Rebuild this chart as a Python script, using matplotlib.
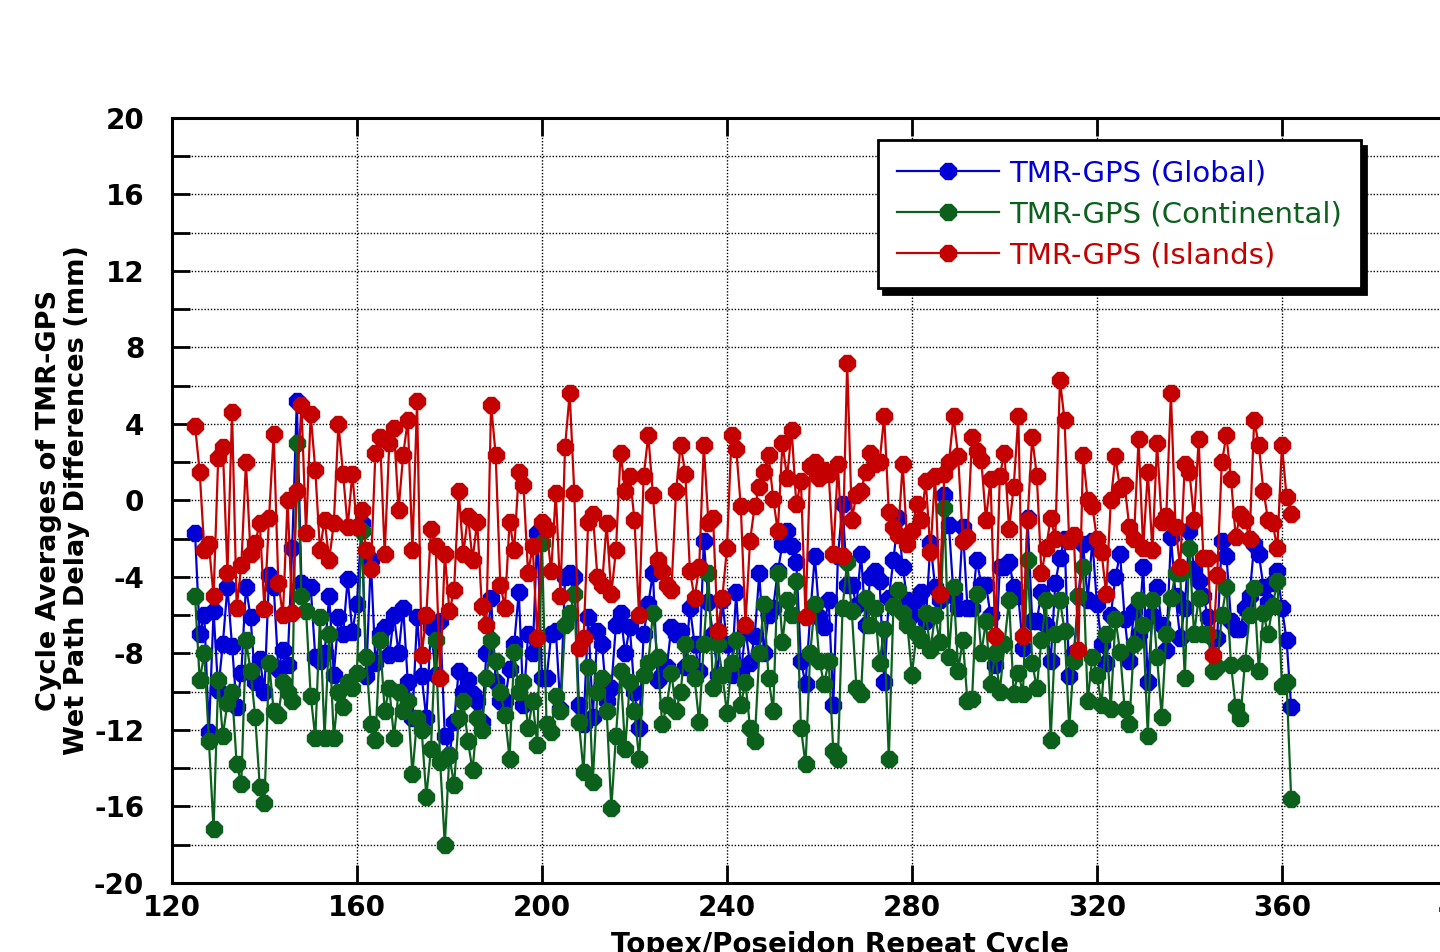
import numpy as np
import matplotlib
matplotlib.use("Agg")
import matplotlib.pyplot as plt
from matplotlib.ticker import MultipleLocator

plt.rcParams["axes.unicode_minus"] = False

# repeat cycles 125..362
first_cycle = 125
last_cycle = 362

# TMR-GPS (Global)
global_diff = [
    -1.7, -7.0, -6.0, -12.1, -5.8, -9.9, -7.5, -4.5, -7.6, -10.8,
    -9.0, -4.5, -6.1, -9.5, -8.3, -10.0, -3.9, -4.5, -8.8, -7.8,
    -8.6, -2.5, 5.2, -4.3, -4.6, -4.5, -8.2, -8.4, -8.0, -5.0,
    -9.1, -6.1, -7.0, -4.1, -6.9, -5.4, -1.2, -9.2, -3.1, -8.5,
    -7.0, -6.6, -8.1, -6.0, -8.0, -5.6, -9.5, -11.4, -6.1, -9.2,
    -11.4, -6.6, -9.1, -6.3, -12.3, -13.3, -11.6, -8.9, -10.0, -9.4,
    -10.1, -10.5, -11.6, -8.0, -5.1, -9.5, -10.5, -10.5, -8.8, -7.5,
    -4.8, -10.7, -7.0, -8.0, -1.7, -9.3, -9.3, -7.0, -6.8, -10.9,
    -4.0, -3.8, -4.0, -10.7, -11.7, -6.1, -11.3, -6.8, -7.5, -10.5,
    -9.8, -6.5, -5.9, -8.0, -6.6, -10.0, -11.9, -7.0, -5.4, -3.8,
    -9.4, -9.1, -8.7, -6.6, -7.0, -6.8, -8.7, -5.6, -7.5, -8.9,
    -2.1, -5.3, -7.0, -9.1, -5.2, -7.5, -9.1, -4.8, -9.1, -6.8,
    -8.5, -7.1, -3.8, -8.0, -6.0, -5.6, -3.7, -2.3, -1.6, -2.4,
    -3.2, -8.4, -9.6, -6.0, -2.9, -6.1, -6.6, -5.2, -10.7, -2.9,
    -0.2, -4.4, -4.4, -5.5, -2.8, -6.5, -4.0, -3.7, -4.2, -9.5,
    -5.1, -3.1, -0.9, -3.5, -5.2, -6.0, -5.2, -4.8, -6.3, -2.2,
    -4.5, -5.2, 0.3, -1.3, -5.0, -5.6, -1.4, -5.6, -5.6, -3.1,
    -4.4, -4.4, -6.0, -8.6, -3.5, -3.5, -3.2, -4.5, -5.0, -7.7,
    -0.9, -6.3, -6.3, -4.8, -6.5, -8.4, -4.3, -3.0, -2.0, -9.2,
    -8.0, -5.0, -2.3, -5.2, -2.1, -5.4, -7.5, -8.5, -6.0, -4.0,
    -2.8, -6.2, -8.4, -5.8, -7.0, -3.5, -9.5, -6.0, -4.5, -6.5,
    -7.8, -1.9, -5.0, -7.2, -5.6, -1.6, -3.6, -4.2, -5.0, -6.1,
    -7.2, -7.2, -2.1, -2.9, -6.3, -6.7, -6.7, -5.6, -5.0, -2.3,
    -2.8, -4.5, -5.3, -4.3, -3.7, -5.6, -7.3, -10.8,
]

# TMR-GPS (Continental)
continental_diff = [
    -5.0, -9.4, -8.0, -12.6, -17.2, -9.4, -12.3, -10.6, -10.0, -13.8,
    -14.8, -7.3, -8.9, -11.3, -15.0, -15.8, -8.5, -11.0, -11.2, -9.5,
    -10.0, -10.5, 3.0, -5.0, -5.8, -10.2, -12.4, -6.1, -12.4, -7.0,
    -12.4, -10.0, -10.8, -9.5, -9.8, -9.0, -1.6, -8.2, -11.7, -12.5,
    -7.3, -11.0, -9.8, -12.4, -10.0, -11.0, -10.5, -14.3, -11.4, -12.0,
    -15.5, -13.0, -7.3, -13.7, -18.0, -13.3, -14.9, -11.4, -10.5, -12.6,
    -14.1, -11.4, -12.0, -9.3, -7.3, -8.4, -10.0, -11.2, -13.5, -7.9,
    -10.0, -9.5, -11.9, -10.5, -12.8, -2.2, -11.7, -12.1, -10.2, -11.0,
    -6.5, -5.9, -4.9, -11.6, -14.2, -8.7, -14.7, -10.0, -9.3, -11.0,
    -16.1, -12.3, -8.9, -13.0, -9.5, -11.0, -13.5, -9.1, -8.5, -5.9,
    -8.2, -11.7, -10.7, -9.0, -11.0, -10.0, -7.5, -8.5, -9.3, -11.6,
    -7.5, -3.8, -9.8, -7.5, -9.1, -11.1, -8.5, -7.3, -10.7, -9.5,
    -11.9, -12.6, -8.0, -5.4, -9.3, -11.0, -3.8, -7.4, -5.2, -6.0,
    -4.2, -11.9, -13.8, -8.0, -5.4, -8.4, -9.6, -8.4, -13.1, -13.5,
    -5.6, -3.2, -5.8, -9.8, -10.1, -5.1, -6.5, -5.6, -8.5, -6.7,
    -13.5, -5.5, -4.7, -5.9, -6.5, -9.1, -7.0, -7.3, -5.9, -7.8,
    -6.0, -7.4, -0.4, -8.2, -4.5, -8.9, -7.3, -10.5, -10.4, -4.9,
    -8.0, -6.3, -9.6, -8.0, -10.0, -7.5, -5.2, -10.1, -9.0, -10.1,
    -3.1, -8.5, -9.8, -7.3, -5.2, -12.5, -7.0, -5.2, -6.8, -11.9,
    -8.4, -5.0, -3.5, -10.5, -8.2, -9.1, -10.7, -7.0, -10.9, -6.2,
    -7.9, -10.9, -11.7, -7.5, -5.2, -6.5, -12.3, -5.2, -8.2, -11.3,
    -7.0, -5.1, -3.8, -3.8, -9.3, -2.5, -7.0, -5.1, -7.0, -7.0,
    -8.9, -8.7, -6.0, -4.5, -8.6, -10.8, -11.4, -8.5, -6.0, -4.6,
    -8.9, -5.9, -7.0, -5.5, -4.2, -9.7, -9.5, -15.6,
]

# TMR-GPS (Islands)
islands_diff = [
    3.9, 1.5, -2.6, -2.3, -5.0, 2.2, 2.8, -3.8, 4.6, -5.6,
    -3.4, 2.0, -2.8, -2.2, -1.2, -5.7, -0.9, 3.5, -4.3, -6.0,
    0.0, -5.9, 0.5, 5.0, -1.7, 4.5, 1.6, -2.6, -1.0, -3.1,
    -1.2, 4.0, 1.4, -1.4, 1.4, -1.4, -0.5, -2.6, -3.6, 2.5,
    3.3, -2.8, 3.0, 3.8, -0.5, 2.4, 4.2, -2.6, 5.2, -8.1,
    -6.0, -1.5, -2.4, -9.3, -2.8, -5.8, -4.7, 0.5, -2.8, -0.8,
    -3.1, -1.1, -5.5, -6.5, 5.0, 2.4, -4.4, -5.6, -1.1, -2.6,
    1.5, 0.8, -3.8, -2.4, -7.2, -1.1, -1.5, -3.7, 0.4, -5.0,
    2.8, 5.6, 0.4, -7.7, -7.2, -1.1, -0.7, -4.0, -4.4, -1.2,
    -4.9, -2.6, 2.5, 0.5, 1.3, -1.0, -6.0, 1.3, 3.4, 0.3,
    -3.1, -3.7, -4.4, -4.7, 0.5, 2.9, 1.4, -3.7, -5.1, -3.5,
    2.9, -1.2, -0.9, -6.8, -5.1, -2.5, 3.4, 2.7, -0.3, -6.5,
    -2.1, -0.3, 0.7, 1.5, 2.4, 0.1, -1.6, 3.0, 1.2, 3.7,
    -0.2, 1.0, -6.1, 1.8, 2.0, 1.2, 1.6, 1.4, -2.8, 1.9,
    -2.9, 7.2, -1.0, 0.3, 0.5, 1.5, 2.5, 1.9, 2.0, 4.4,
    -0.6, -1.4, -1.8, 1.9, -2.3, -1.6, -0.2, -1.0, 1.0, -2.7,
    1.3, -4.9, 1.4, 2.0, 4.4, 2.3, -2.1, -1.9, 3.3, 2.6,
    2.1, -1.0, 1.1, -7.1, 1.3, 2.5, -1.5, 0.7, 4.4, -7.1,
    -1.0, 3.3, 1.3, -3.8, -2.5, -0.9, -2.0, 6.3, 4.2, -2.1,
    -1.8, -7.8, 2.4, 0.0, -0.3, -2.0, -2.7, -4.9, 0.0, 2.3,
    0.6, 0.8, -1.4, -2.0, 3.2, -2.5, 1.5, -2.6, 3.0, -1.1,
    -0.8, 5.6, -1.4, -3.5, 1.9, 1.5, -1.0, 3.2, -3.0, -3.0,
    -8.1, -3.9, 2.0, 3.4, 1.1, -1.9, -0.7, -1.0, -2.0, 4.2,
    2.9, 0.5, -1.0, -1.2, -2.5, 2.9, 0.2, -0.7,
]

series_labels = ["TMR-GPS (Global)", "TMR-GPS (Continental)", "TMR-GPS (Islands)"]
series_colors = ["#0000d6", "#0b601c", "#c40000"]

x_ticks = [120, 160, 200, 240, 280, 320, 360, 400]
y_ticks = [-20, -16, -12, -8, -4, 0, 4, 8, 12, 16, 20]

cycles = np.arange(first_cycle, last_cycle + 1)

fig = plt.figure(figsize=(14.4, 9.52), dpi=100)
# axes runs to cycle 400, a little past the right edge of the figure
ax = fig.add_axes([0.1194, 0.0725, 0.8993, 0.8036])

for vals, lab, col in zip([global_diff, continental_diff, islands_diff],
                          series_labels, series_colors):
    ax.plot(cycles, vals, color=col, lw=1.6, marker="8", ms=12.5,
            mec=col, mfc=col, label=lab, clip_on=False)

ax.set_xlim(120, 400)
ax.set_ylim(-20, 20)
ax.set_xticks(x_ticks)
ax.set_yticks(y_ticks)
ax.yaxis.set_minor_locator(MultipleLocator(2))

dots = (0, (1, 1.3))
ax.grid(True, which="both", axis="y", color="black", lw=1.0, linestyle=dots)
ax.grid(True, which="major", axis="x", color="black", lw=1.0, linestyle=dots)
ax.set_axisbelow(True)

for s in ax.spines.values():
    s.set_linewidth(2.2)

ax.tick_params(axis="both", which="both", direction="in", length=13, width=2,
               top=True, right=True)
ax.tick_params(axis="y", pad=20)
ax.tick_params(axis="x", pad=8)
for t in ax.get_xticklabels() + ax.get_yticklabels():
    t.set_fontsize(20)
    t.set_fontweight("bold")

fig.text(63 / 1440, 1 - 500 / 952,
         "Cycle Averages of TMR-GPS\nWet Path Delay Differences (mm)",
         rotation=90, ha="center", va="center", multialignment="center",
         fontsize=19.5, fontweight="bold", linespacing=1.08)
fig.text(840 / 1440, 1 - 931 / 952, "Topex/Poseidon Repeat Cycle",
         ha="center", va="top", fontsize=20, fontweight="bold")

leg = ax.legend(loc="upper left", bbox_to_anchor=(0.545, 0.971),
                borderaxespad=0, fancybox=False, framealpha=1,
                edgecolor="black", fontsize=21, handlelength=3.5,
                handletextpad=0.35, labelspacing=0.45, borderpad=0.65,
                shadow={"ox": 4, "oy": -4, "color": "black", "alpha": 1})
leg.get_frame().set_linewidth(2)
for txt, col in zip(leg.get_texts(), series_colors):
    txt.set_color(col)

fig.savefig("out.png", dpi=100)
